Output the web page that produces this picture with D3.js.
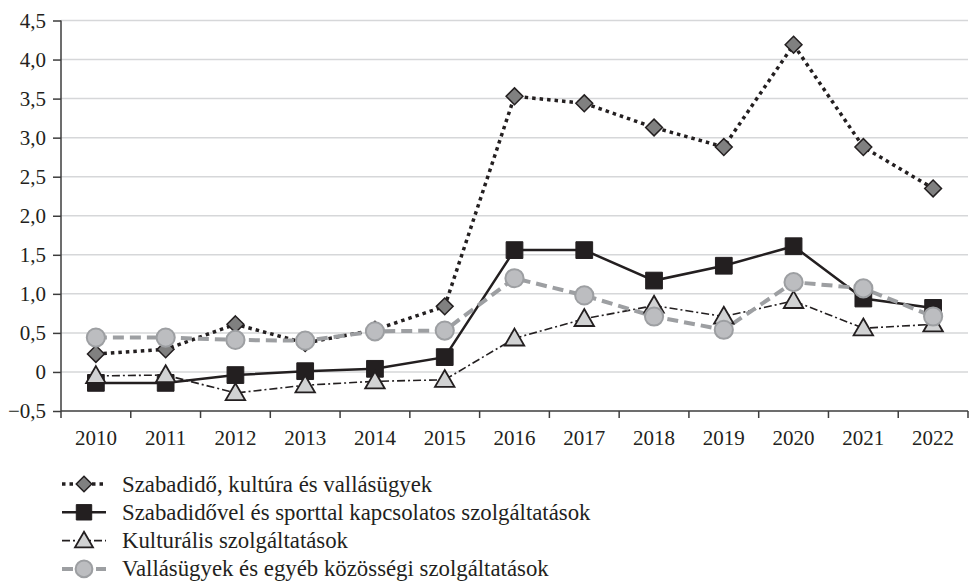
<!DOCTYPE html>
<html>
<head>
<meta charset="utf-8">
<script src="https://cdn.jsdelivr.net/npm/d3@7"></script>
<style>
  body { margin: 0; background: #fff; }
  svg text { font-family: "Liberation Serif", "Times New Roman", serif !important; fill: #231f20; }
</style>
</head>
<body>
<script>
var width = 969,
    height = 586;

var years = ["2010", "2011", "2012", "2013", "2014", "2015", "2016", "2017", "2018", "2019", "2020", "2021", "2022"];
var yTicks = [-0.5, 0, 0.5, 1, 1.5, 2, 2.5, 3, 3.5, 4, 4.5];

var szabadido = [0.23, 0.29, 0.61, 0.37, 0.54, 0.84, 3.53, 3.44, 3.13, 2.88, 4.19, 2.88, 2.35];
var sport = [-0.14, -0.14, -0.04, 0.01, 0.04, 0.19, 1.56, 1.56, 1.17, 1.36, 1.61, 0.94, 0.82];
var kulturalis = [-0.05, -0.04, -0.27, -0.17, -0.12, -0.10, 0.43, 0.68, 0.85, 0.71, 0.91, 0.56, 0.61];
var vallas = [0.44, 0.44, 0.41, 0.40, 0.52, 0.53, 1.20, 0.98, 0.71, 0.54, 1.15, 1.07, 0.71];

var seriesNames = [
  "Szabadidő, kultúra és vallásügyek",
  "Szabadidővel és sporttal kapcsolatos szolgáltatások",
  "Kulturális szolgáltatások",
  "Vallásügyek és egyéb közösségi szolgáltatások"
];

var series = [
  { name: seriesNames[0], values: szabadido, symbol: d3.symbolDiamond2, size: 180, fill: "#808080", stroke: "#231f20", sw: 1.5,
    line: "#231f20", lw: 3.5, dash: "3.5,4" },
  { name: seriesNames[1], values: sport, symbol: d3.symbolSquare, size: 280, fill: "#231f20", stroke: "#231f20", sw: 1,
    line: "#231f20", lw: 2.5, dash: null },
  { name: seriesNames[2], values: kulturalis, symbol: d3.symbolTriangle, size: 165, fill: "#d1d2d3", stroke: "#231f20", sw: 1.8,
    line: "#231f20", lw: 1.6, dash: "8,3,2,3" },
  { name: seriesNames[3], values: vallas, symbol: d3.symbolCircle, size: 260, fill: "#bcbdc0", stroke: "#9d9fa2", sw: 2,
    line: "#9d9fa2", lw: 4, dash: "11,6" }
];

var svg = d3.select("body").append("svg")
    .attr("width", width)
    .attr("height", height);

var x = d3.scaleBand().domain(years).range([61, 968]);
var y = d3.scaleLinear().domain([-0.5, 4.5]).range([411, 20.5]);

// gridlines
svg.append("g")
  .selectAll("line")
  .data(yTicks.filter(function (d) { return d > -0.5; }))
  .enter().append("line")
    .attr("x1", 61).attr("x2", 968)
    .attr("y1", function (d) { return y(d); })
    .attr("y2", function (d) { return y(d); })
    .attr("stroke", "#d6d7d9")
    .attr("stroke-width", 1.5);

var fmt = function (d) {
  if (d === 0) return "0";
  return (d < 0 ? "\u2212" : "") + Math.abs(d).toFixed(1).replace(".", ",");
};

var yAxis = svg.append("g")
  .attr("transform", "translate(61,0)")
  .call(d3.axisLeft(y).tickValues(yTicks).tickFormat(fmt).tickSize(8).tickPadding(7));

var xAxis = svg.append("g")
  .attr("transform", "translate(0,411)")
  .call(d3.axisBottom(x).tickSize(0).tickPadding(19));

// ticks between categories
xAxis.selectAll(".sep")
  .data(years.concat(["end"]))
  .enter().append("line")
    .attr("class", "sep")
    .attr("x1", function (d, i) { return 61 + i * x.step(); })
    .attr("x2", function (d, i) { return 61 + i * x.step(); })
    .attr("y1", 0).attr("y2", 7)
    .attr("stroke", "#3d3d3d")
    .attr("stroke-width", 1.5);

[yAxis, xAxis].forEach(function (g) {
  g.attr("font-family", null);
  g.select(".domain").attr("stroke", "#3d3d3d").attr("stroke-width", 1.5);
  g.selectAll(".tick line").attr("stroke", "#3d3d3d").attr("stroke-width", 1.5);
  g.selectAll("text").attr("font-size", 21).attr("fill", "#231f20");
});
xAxis.select(".domain").attr("d", "M61,0H968");
yAxis.select(".domain").attr("d", "M0,20.5V411");

var line = d3.line()
  .x(function (d, i) { return x(years[i]) + x.bandwidth() / 2; })
  .y(function (d) { return y(d); });

series.forEach(function (s) {
  svg.append("path")
    .datum(s.values)
    .attr("d", line)
    .attr("fill", "none")
    .attr("stroke", s.line)
    .attr("stroke-width", s.lw)
    .attr("stroke-dasharray", s.dash);
});

series.forEach(function (s) {
  svg.append("g")
    .selectAll("path")
    .data(s.values)
    .enter().append("path")
      .attr("d", d3.symbol().type(s.symbol).size(s.size))
      .attr("transform", function (d, i) {
        var dy = s.symbol === d3.symbolTriangle ? 1.5 : 0;
        return "translate(" + (x(years[i]) + x.bandwidth() / 2) + "," + (y(d) + dy) + ")";
      })
      .attr("fill", s.fill)
      .attr("stroke", s.stroke)
      .attr("stroke-width", s.sw);
});

// legend
var legend = svg.append("g")
  .selectAll("g")
  .data(series)
  .enter().append("g")
    .attr("transform", function (d, i) { return "translate(0," + (484 + i * 28.3) + ")"; });

legend.append("line")
  .attr("x1", 62).attr("x2", 106)
  .attr("stroke", function (d) { return d.line; })
  .attr("stroke-width", function (d) { return d.lw; })
  .attr("stroke-dasharray", function (d) { return d.dash; });

legend.append("path")
  .attr("d", function (d) { return d3.symbol().type(d.symbol).size(d.size * 0.85)(); })
  .attr("transform", function (d) { return "translate(84," + (d.symbol === d3.symbolTriangle ? 1.5 : 0) + ")"; })
  .attr("fill", function (d) { return d.fill; })
  .attr("stroke", function (d) { return d.stroke; })
  .attr("stroke-width", function (d) { return d.sw; });

legend.append("text")
  .attr("x", 122)
  .attr("dy", "0.33em")
  .attr("font-size", 22.8)
  .text(function (d) { return d.name; });
</script>
</body>
</html>
